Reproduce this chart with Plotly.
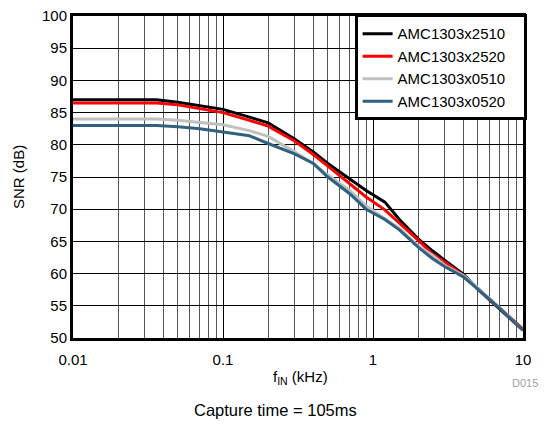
import plotly.graph_objects as go

freq_khz = [0.01, 0.036, 0.05, 0.07, 0.1, 0.15, 0.2, 0.3, 0.4, 0.5, 0.7, 0.9, 1.2, 1.5,
            2.0, 2.5, 3.0, 4.0, 5.0, 7.0, 10.0]

snr_2510 = [87.0, 87.0, 86.6, 86.1, 85.5, 84.3, 83.4, 80.9, 78.9, 77.1, 74.7, 72.9, 71.1, 68.4,
            65.4, 63.5, 62.1, 59.9, 57.6, 54.5, 51.2]
snr_2520 = [86.5, 86.5, 86.2, 85.6, 85.0, 83.8, 82.9, 80.6, 78.5, 76.7, 73.9, 71.9, 69.9, 67.9,
            65.2, 63.0, 61.8, 59.7, 57.7, 54.6, 51.4]
snr_0510 = [84.0, 84.0, 83.8, 83.5, 83.1, 82.2, 81.3, 78.9, 77.1, 75.3, 72.9, 70.5, 68.6, 67.0,
            64.3, 62.8, 61.3, 59.7, 57.8, 54.7, 51.2]
snr_0520 = [83.0, 83.0, 82.8, 82.5, 82.0, 81.4, 80.2, 78.6, 77.1, 75.0, 72.4, 70.0, 68.4, 66.8,
            64.1, 62.3, 61.1, 59.5, 57.6, 54.6, 51.2]

series_names = ["AMC1303x2510", "AMC1303x2520", "AMC1303x0510", "AMC1303x0520"]
series_values = [snr_2510, snr_2520, snr_0510, snr_0520]
series_colors = ["#000000", "#ff0000", "#c0c0c0", "#30617f"]

x_tickvals = [0.01, 0.1, 1, 10]
x_ticktext = ["0.01", "0.1", "1", "10"]
y_tickvals = [50, 55, 60, 65, 70, 75, 80, 85, 90, 95, 100]

FONT = "Liberation Sans, Arial, sans-serif"

# The page body adds an 8 px offset; the figure is sized to fill the rest.
OFF = 8
FIG_W, FIG_H = 550 - OFF, 424 - OFF
PL, PR, PT, PB = 73, 523, 16, 338  # plot area in screen pixels
ML, MR, MT, MB = PL - OFF, 550 - PR, PT - OFF, 424 - PB
plot_w = PR - PL
plot_h = PB - PT


def px_to_paper(px, py):
    return (px - PL) / plot_w, (PB - py) / plot_h


fig = go.Figure()
for name, vals, col in zip(series_names, series_values, series_colors):
    fig.add_trace(go.Scatter(x=freq_khz, y=vals, mode="lines",
                             name=name + "\u00a0\u00a0\u00a0",
                             line=dict(color=col, width=3)))

xa, ya = px_to_paper(300, 377)
xs, ys = px_to_paper(18, 177)
xd, yd = px_to_paper(540, 383)
xc, yc = px_to_paper(275, 410)

fig.update_layout(
    width=FIG_W, height=FIG_H,
    margin=dict(l=ML, r=MR, t=MT, b=MB, autoexpand=False),
    paper_bgcolor="white", plot_bgcolor="white",
    font=dict(family=FONT, size=14, color="black"),
    showlegend=True,
    legend=dict(x=1.008, y=1.005, xanchor="right", yanchor="top",
                bgcolor="white", bordercolor="black", borderwidth=3,
                font=dict(family=FONT, size=15, color="black"),
                tracegroupgap=0, itemwidth=30),
    xaxis=dict(type="log", range=[-2, 1], tickvals=x_tickvals, ticktext=x_ticktext,
               showgrid=True, gridcolor="black", gridwidth=1,
               minor=dict(dtick="D1", showgrid=True, gridcolor="#555555", gridwidth=1, ticks=""),
               showline=True, linecolor="black", linewidth=3, mirror=True,
               ticks="", zeroline=False, ticklabelstandoff=6,
               ticklabeloverflow="allow",
               tickfont=dict(family=FONT, size=15, color="black")),
    yaxis=dict(range=[50, 100], tickvals=y_tickvals,
               showgrid=True, gridcolor="black", gridwidth=1,
               showline=True, linecolor="black", linewidth=3, mirror=True,
               ticks="", zeroline=False, ticklabeloverflow="allow",
               tickfont=dict(family=FONT, size=15, color="black")),
    annotations=[
        dict(text="f<sub>IN</sub> (kHz)", x=xa, y=ya, xref="paper", yref="paper",
             xanchor="center", yanchor="middle", showarrow=False,
             font=dict(family=FONT, size=15, color="black")),
        dict(text="SNR (dB)", x=xs, y=ys, xref="paper", yref="paper",
             showarrow=False, textangle=-90, xanchor="center", yanchor="middle",
             font=dict(family=FONT, size=15, color="black")),
        dict(text="D015", x=xd, y=yd, xref="paper", yref="paper",
             xanchor="right", yanchor="middle",
             showarrow=False, font=dict(family=FONT, size=11, color="#a0a0a0")),
        dict(text="Capture time = 105ms", x=xc, y=yc, xref="paper", yref="paper",
             showarrow=False, xanchor="center", yanchor="middle",
             font=dict(family=FONT, size=16.5, color="black")),
    ],
)

fig.write_html("out.html")
